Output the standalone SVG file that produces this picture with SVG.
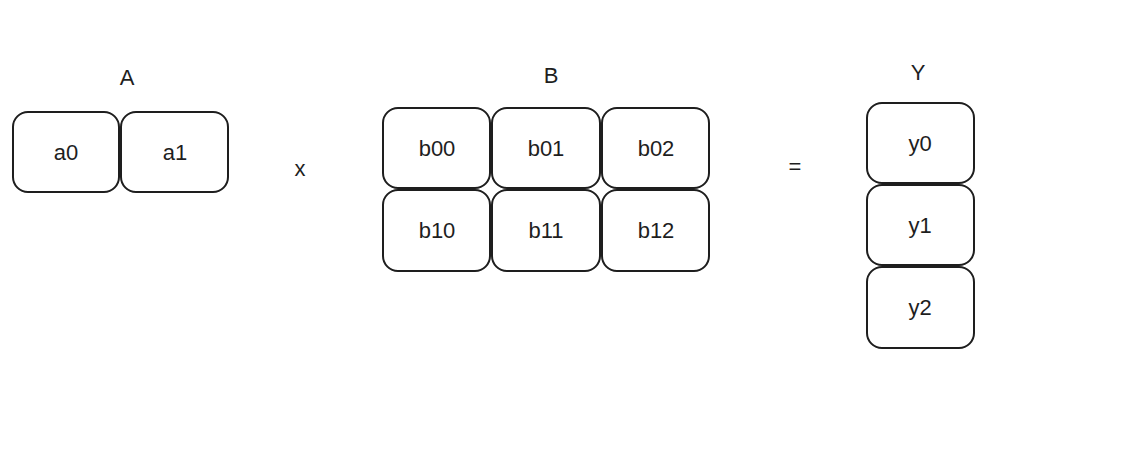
<svg xmlns="http://www.w3.org/2000/svg" width="1138" height="458" viewBox="0 0 1138 458">
<style>
.b{fill:#fff;stroke:#1e1e1e;stroke-width:2}
text{font-family:"Liberation Sans",sans-serif;font-size:22px;fill:#1e1e1e;text-anchor:middle;dominant-baseline:central}
</style>
<rect width="1138" height="458" fill="#fff"/>
<text x="127" y="77">A</text>
<text x="551" y="75">B</text>
<text x="918" y="72">Y</text>
<text x="300" y="168">x</text>
<text x="795" y="166">=</text>
<g id="a0"><rect class="b" x="13" y="112" width="106" height="80" rx="15"/><text x="66" y="152">a0</text></g>
<g id="a1"><rect class="b" x="121" y="112" width="107" height="80" rx="15"/><text x="175" y="152">a1</text></g>
<g id="b00"><rect class="b" x="383" y="108" width="107" height="80" rx="15"/><text x="437" y="148">b00</text></g>
<g id="b01"><rect class="b" x="492" y="108" width="108" height="80" rx="15"/><text x="546" y="148">b01</text></g>
<g id="b02"><rect class="b" x="602" y="108" width="107" height="80" rx="15"/><text x="656" y="148">b02</text></g>
<g id="b10"><rect class="b" x="383" y="190" width="107" height="81" rx="15"/><text x="437" y="230">b10</text></g>
<g id="b11"><rect class="b" x="492" y="190" width="108" height="81" rx="15"/><text x="546" y="230">b11</text></g>
<g id="b12"><rect class="b" x="602" y="190" width="107" height="81" rx="15"/><text x="656" y="230">b12</text></g>
<g id="y0"><rect class="b" x="867" y="103" width="107" height="80" rx="15"/><text x="920" y="143">y0</text></g>
<g id="y1"><rect class="b" x="867" y="185" width="107" height="80" rx="15"/><text x="920" y="225">y1</text></g>
<g id="y2"><rect class="b" x="867" y="267" width="107" height="81" rx="15"/><text x="920" y="307">y2</text></g>
<g id="connectors"></g>
</svg>
